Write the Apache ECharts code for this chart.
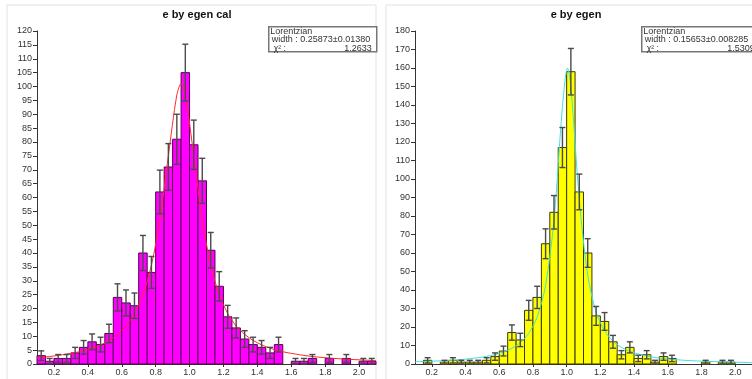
<!DOCTYPE html>
<html><head><meta charset="utf-8">
<script src="https://cdn.jsdelivr.net/npm/echarts@6/dist/echarts.min.js"></script>
<style>html,body{margin:0;padding:0;background:#fff}#c{width:752px;height:379px}</style>
</head><body><div id="c"></div>
<script>
// bin lower edges (bin width 0.05)
const binStarts = [0.10,0.15,0.20,0.25,0.30,0.35,0.40,0.45,0.50,0.55,0.60,0.65,0.70,0.75,0.80,0.85,0.90,0.95,1.00,1.05,
                   1.10,1.15,1.20,1.25,1.30,1.35,1.40,1.45,1.50,1.55,1.60,1.65,1.70,1.75,1.80,1.85,1.90,1.95,2.00,2.05];
const binWidth = 0.05;
const countsCal = [3,1,2,2,4,6,8,7,11,24,22,21,40,33,62,71,81,105,79,66,
                   41,28,17,13,9,7,6,4,7,0,1,1,2,0,2,0,2,0,1,1];
const countsRaw = [0,2,0,1,2,1,1,1,2,4,7,17,13,29,36,65,82,117,158,93,
                   60,26,23,12,5,9,3,5,1,4,3,0,0,0,1,0,1,1,0,0];
// fitted Lorentzian curves
const fitCalX = [0.10,0.125,0.175,0.225,0.275,0.325,0.375,0.425,0.475,0.525,0.575,0.625,0.675,0.725,0.775,0.825,0.875,0.925,0.95,0.975,1.025,1.075,1.125,1.175,1.225,1.275,1.325,1.375,1.425,1.475,1.525,1.575,1.625,1.675,1.725,1.775,1.825,1.875,1.925,1.975,2.025,2.075,2.10];
const fitCalY = [2.3,2.4,2.7,3.1,3.6,4.1,4.8,5.7,6.9,8.5,10.7,13.7,18.2,25,35.6,52,75,97,101,97,75,52,35.6,25,18.2,13.7,10.7,8.5,6.9,5.7,4.8,4.1,3.6,3.1,2.7,2.4,2.15,1.93,1.74,1.58,1.43,1.31,1.25];
const fitRawX = [0.10,0.125,0.175,0.225,0.275,0.325,0.375,0.425,0.475,0.525,0.575,0.625,0.675,0.725,0.775,0.825,0.875,0.925,0.975,1.005,1.025,1.075,1.125,1.175,1.225,1.275,1.325,1.375,1.425,1.475,1.525,1.575,1.625,1.675,1.725,1.775,1.825,1.875,1.925,1.975,2.025,2.075,2.10];
const fitRawY = [1.2,1.26,1.41,1.6,1.82,2.09,2.43,2.86,3.42,4.15,5.1,6.5,8.5,11.6,16.6,25.4,42.6,78,139,160,150,89,48,28,18,12.4,9.0,6.9,5.4,4.3,3.5,2.96,2.51,2.16,1.87,1.64,1.45,1.29,1.15,1.04,0.94,0.85,0.81];
const xLabelValues = [0.2,0.4,0.6,0.8,1.0,1.2,1.4,1.6,1.8,2.0];
const titles = ['e by egen cal','e by egen'];
const fitNames = ['Lorentzian','Lorentzian'];
const fitWidths = ['width : 0.25873\u00b10.01380','width : 0.15653\u00b10.008285'];
const fitChi2 = ['1.2633','1.5309'];

const chart = echarts.init(document.getElementById('c'), null, {renderer:'canvas'});
const FONT = '"Liberation Sans", Arial, sans-serif';

function histSeries(idx, counts, fill, stroke){
  return {
    type:'custom', xAxisIndex:idx, yAxisIndex:idx,
    data: binStarts.map((b,i)=>[b, counts[i]]),
    renderItem(params, api){
      const x0 = api.value(0), n = api.value(1);
      if (!n) return null;
      const p0 = api.coord([x0, 0]);
      const p1 = api.coord([x0 + binWidth, n]);
      return {type:'rect', shape:{x:p0[0], y:p1[1], width:p1[0]-p0[0], height:p0[1]-p1[1]},
        style:{fill:fill, stroke:stroke, lineWidth:1}};
    }, z:2
  };
}
function errSeries(idx, counts){
  return {
    type:'custom', xAxisIndex:idx, yAxisIndex:idx,
    data: binStarts.map((b,i)=>[b + binWidth/2, counts[i]]),
    renderItem(params, api){
      const xc = api.value(0), n = api.value(1);
      if (!n) return null;
      const e = Math.sqrt(n);
      const top = api.coord([xc, n + e]);
      const bot = api.coord([xc, Math.max(0, n - e)]);
      const st = {stroke:'#4a4a4a', lineWidth:1.4};
      return {type:'group', children:[
        {type:'line', shape:{x1:top[0], y1:top[1], x2:bot[0], y2:bot[1]}, style:st},
        {type:'line', shape:{x1:top[0]-3, y1:top[1], x2:top[0]+3, y2:top[1]}, style:st},
        {type:'line', shape:{x1:bot[0]-3, y1:bot[1], x2:bot[0]+3, y2:bot[1]}, style:st}
      ]};
    }, z:4
  };
}
function xAx(idx){
  return {type:'value', gridIndex:idx, min:0.1, max:2.1,
    axisLine:{show:true, onZero:false, lineStyle:{color:'#333', width:1}},
    axisTick:{show:true, length:3, customValues:xLabelValues, lineStyle:{color:'#333'}},
    axisLabel:{customValues:xLabelValues, fontSize:9, color:'#333', fontFamily:FONT, margin:4,
      formatter:v=>v.toFixed(1)},
    splitLine:{show:false}};
}
function yAx(idx, max, interval){
  return {type:'value', gridIndex:idx, min:0, max:max, interval:interval,
    axisLine:{show:true, lineStyle:{color:'#333', width:1}},
    axisTick:{show:true, length:4, lineStyle:{color:'#333'}},
    axisLabel:{fontSize:9, color:'#333', fontFamily:FONT, margin:5},
    splitLine:{show:false}};
}
function legendBox(x, y, w, i){
  return {type:'group', left:x, top:y, children:[
    {type:'rect', shape:{x:0, y:0, width:w, height:25}, style:{fill:'#fff', stroke:'#777', lineWidth:1.5}},
    {type:'text', x:1.5, y:4.5, style:{text:fitNames[i], font:'9px '+FONT, fill:'#333', textVerticalAlign:'middle'}},
    {type:'text', x:3, y:13, style:{text:fitWidths[i], font:'9px '+FONT, fill:'#333', textVerticalAlign:'middle'}},
    {type:'text', x:5, y:21.5, style:{text:'\u03c7\u00b2 :', font:'8.5px '+FONT, fill:'#333', textVerticalAlign:'middle'}},
    {type:'text', x:w-5, y:21.5, style:{text:fitChi2[i], font:'9px '+FONT, fill:'#333', textAlign:'right', textVerticalAlign:'middle'}}
  ]};
}

chart.setOption({
  animation:false,
  backgroundColor:'#fff',
  grid:[{left:37, top:31, width:339, height:333},
        {left:415, top:31, width:338, height:333}],
  xAxis:[xAx(0), xAx(1)],
  yAxis:[yAx(0,120,5), yAx(1,180,10)],
  series:[
    histSeries(0, countsCal, '#ff00ff', '#550055'),
    {type:'line', xAxisIndex:0, yAxisIndex:0, data:fitCalX.map((x,i)=>[x, fitCalY[i]]),
      showSymbol:false, smooth:0.3, lineStyle:{color:'#ff2a2a', width:1}, z:3},
    errSeries(0, countsCal),
    histSeries(1, countsRaw, '#ffff00', '#3a3a00'),
    {type:'line', xAxisIndex:1, yAxisIndex:1, data:fitRawX.map((x,i)=>[x, fitRawY[i]]),
      showSymbol:false, smooth:0.3, lineStyle:{color:'#40e0e0', width:1}, z:3},
    errSeries(1, countsRaw)
  ],
  graphic:[
    {type:'rect', shape:{x:7, y:5, width:369, height:380}, style:{fill:'none', stroke:'#e2e2e2', lineWidth:1}, silent:true, z:-1},
    {type:'rect', shape:{x:386, y:5, width:380, height:380}, style:{fill:'none', stroke:'#e2e2e2', lineWidth:1}, silent:true, z:-1},
    {type:'text', x:197, y:15, style:{text:titles[0], font:'bold 11px '+FONT, fill:'#111', textAlign:'center', textVerticalAlign:'middle'}},
    {type:'text', x:576, y:15, style:{text:titles[1], font:'bold 11px '+FONT, fill:'#111', textAlign:'center', textVerticalAlign:'middle'}},
    legendBox(268, 26, 108, 0),
    legendBox(641, 26, 118, 1)
  ]
});
</script></body></html>
